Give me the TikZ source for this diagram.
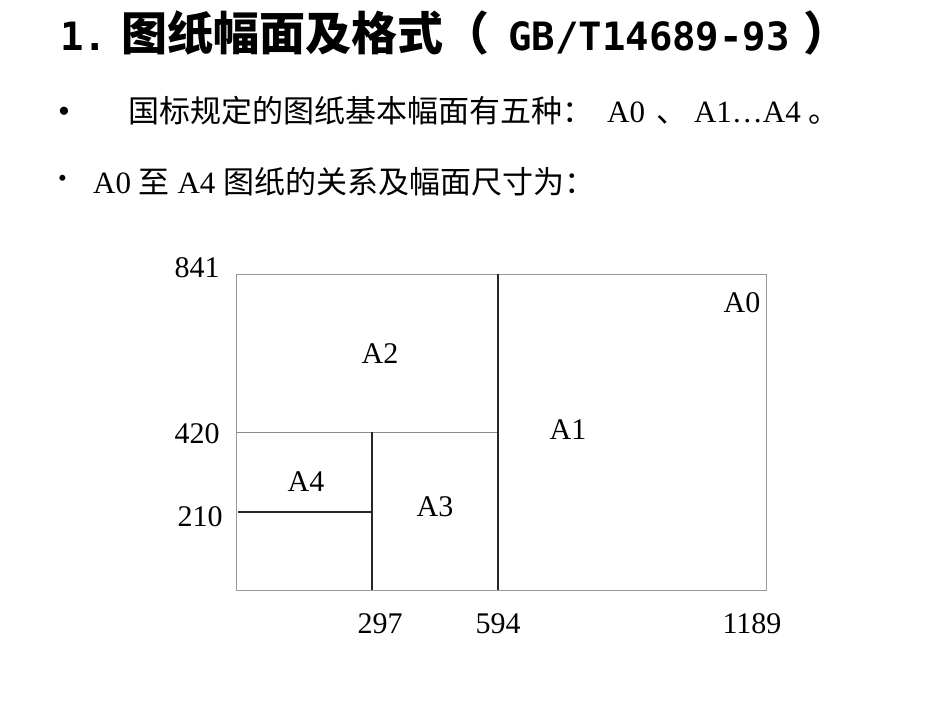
\documentclass[tikz,border=0pt]{standalone}
\usepackage{fontspec}
\setmainfont{Liberation Serif}
\newfontfamily\cjk{Noto Sans CJK SC}
\newfontfamily\monob{DejaVu Sans Mono}
\begin{document}
\begin{tikzpicture}[x=1pt,y=-1pt,
  lbl/.style={anchor=base,inner sep=0pt,font=\fontsize{30}{32}\selectfont},
  txt/.style={anchor=base west,inner sep=0pt},
  frame/.style={draw=black!40,line width=1pt},
  thinline/.style={draw=black!45,line width=1pt},
  darkline/.style={draw=black!85,line width=1.2pt}]
\useasboundingbox[fill=white] (0,0) rectangle (950,713);
% title
\node[txt] (title) at (60,50) {\fontsize{39}{46}\selectfont\monob\bfseries 1.\hspace{14pt}{\fontsize{46}{50}\selectfont\cjk\bfseries 图纸幅面及格式（}\hspace{19pt}GB/T14689-93{\fontsize{46}{50}\selectfont\cjk\bfseries\hspace{0.3em}）}};
% bullets
\node[txt] (bul1) at (58,122) {\fontsize{34}{36}\selectfont •};
\node[txt] (line1) at (128,122) {\fontsize{31}{33}\selectfont{\cjk 国标规定的图纸基本幅面有五种：}\hspace{14pt}A0\hspace{11pt}{\cjk 、}\hspace{7pt}A1…A4\hspace{8pt}{\cjk 。}};
\node[txt] (bul2) at (58,186) {\fontsize{25}{27}\selectfont •};
\node[txt] (line2) at (93,193) {\fontsize{31}{33}\selectfont A0 {\cjk 至} A4 {\cjk 图纸的关系及幅面尺寸为：}};
% frame
\coordinate (bl) at (236,590);
\coordinate (tr) at (766,274);
\coordinate (m420l) at (236,432);
\coordinate (m420r) at (498,432);
\coordinate (v594t) at (498,274);
\coordinate (v594b) at (498,590);
\coordinate (v297t) at (372,432);
\coordinate (v297b) at (372,590);
\coordinate (h210l) at (238,512);
\coordinate (h210r) at (372,512);
\draw[frame] (bl) rectangle (tr);
\draw[thinline] (m420l) -- (m420r);
\draw[darkline] (v594t) -- (v594b);
\draw[darkline] (v297t) -- (v297b);
\draw[darkline] (h210l) -- (h210r);
% numbers
\node[lbl] (n841) at (197,277) {841};
\node[lbl] (n420) at (197,443) {420};
\node[lbl] (n210) at (200,526) {210};
\node[lbl] (n297) at (380,633) {297};
\node[lbl] (n594) at (498,633) {594};
\node[lbl] (n1189) at (752,633) {1189};
% sheet labels
\node[lbl] (a0) at (742,312) {A0};
\node[lbl] (a2) at (380,363) {A2};
\node[lbl] (a1) at (568,439) {A1};
\node[lbl] (a4) at (306,491) {A4};
\node[lbl] (a3) at (435,516) {A3};
\end{tikzpicture}
\end{document}
